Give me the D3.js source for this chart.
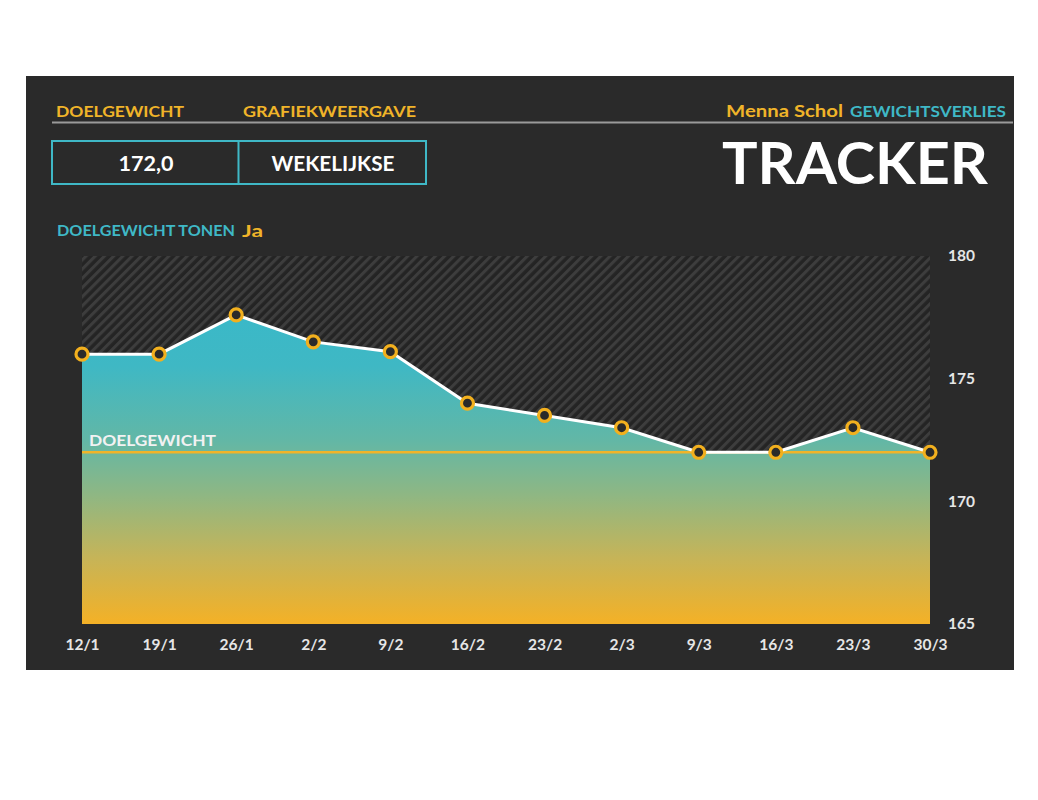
<!DOCTYPE html>
<html><head><meta charset="utf-8">
<script src="https://cdn.jsdelivr.net/npm/d3@7"></script>
<style>body{margin:0;background:#fff;} svg{display:block;}</style>
</head><body>
<script>
const weeks = ["12/1","19/1","26/1","2/2","9/2","16/2","23/2","2/3","9/3","16/3","23/3","30/3"];
const weights = [176.0,176.0,177.6,176.5,176.1,174.0,173.5,173.0,172.0,172.0,173.0,172.0];
const goalWeight = 172.0;
const yTicks = [165,170,175,180];
const yDomain = [165,180];

const W=1038,H=800;
const svg=d3.select("body").append("svg").attr("width",W).attr("height",H);
const font="'Lato','Open Sans',sans-serif";
const orange="#f0b429", teal="#3fb8c6";

function label(x0,y0,txt,size,fill,len,anchor){
  const t=svg.append("text").attr("x",x0).attr("y",y0).text(txt)
    .attr("font-family",font).attr("font-weight",700).attr("font-size",size).attr("fill",fill);
  if(len) t.attr("textLength",len).attr("lengthAdjust","spacingAndGlyphs");
  if(anchor) t.attr("text-anchor",anchor);
  return t;
}

svg.append("rect").attr("x",26).attr("y",76).attr("width",988).attr("height",594).attr("fill","#2a2a2a");

const defs=svg.append("defs");
const pat=defs.append("pattern").attr("id","hatch").attr("patternUnits","userSpaceOnUse")
  .attr("width",6.5).attr("height",6.5).attr("patternTransform","rotate(45)");
pat.append("rect").attr("width",6.5).attr("height",6.5).attr("fill","#242424");
pat.append("rect").attr("width",3).attr("height",6.5).attr("fill","#3d3d3d");

const x=d3.scalePoint().domain(weeks).range([82,930]);
const y=d3.scaleLinear().domain(yDomain).range([624,256]);

const grad=defs.append("linearGradient").attr("id","grad").attr("gradientUnits","userSpaceOnUse")
  .attr("x1",0).attr("x2",0).attr("y1",y(180)).attr("y2",y(165));
[[0,"#35b9cc"],[0.3,"#3fb8c4"],[0.5,"#62b7a6"],[0.65,"#8fb783"],[0.82,"#c6b458"],[1,"#f4b126"]]
  .forEach(([o,c])=>grad.append("stop").attr("offset",o).attr("stop-color",c));

// header
label(56,117,"DOELGEWICHT",16,orange,128);
label(243,117,"GRAFIEKWEERGAVE",16,orange,173);
label(726,117,"Menna Schol",17,orange,117);
label(850,117,"GEWICHTSVERLIES",16,teal,156);
svg.append("line").attr("x1",52).attr("x2",1013).attr("y1",122.5).attr("y2",122.5)
  .attr("stroke","#9a9a9a").attr("stroke-width",2);

svg.append("rect").attr("x",52).attr("y",141).attr("width",374).attr("height",43)
  .attr("fill","none").attr("stroke",teal).attr("stroke-width",2);
svg.append("line").attr("x1",238.5).attr("x2",238.5).attr("y1",141).attr("y2",184)
  .attr("stroke",teal).attr("stroke-width",2);
label(146,171,"172,0",21,"#fff",55,"middle");
label(333,171,"WEKELIJKSE",20,"#fff",123,"middle");

label(722,184,"TRACKER",58,"#fff",266);

label(57,236,"DOELGEWICHT TONEN",15,teal,178);
label(242,237,"Ja",17,orange,21);

// plot
svg.append("rect").attr("x",82).attr("y",256).attr("width",848).attr("height",368).attr("fill","url(#hatch)");
const data=weeks.map((w,i)=>({w,v:weights[i]}));
svg.append("path").datum(data).attr("fill","url(#grad)")
  .attr("d",d3.area().x(d=>x(d.w)).y0(y(165)).y1(d=>y(d.v)));
svg.append("line").attr("x1",82).attr("x2",930).attr("y1",y(goalWeight)).attr("y2",y(goalWeight))
  .attr("stroke",orange).attr("stroke-width",2.5);
label(89,y(goalWeight)-6,"DOELGEWICHT",16,"#f2f2f2",127);
svg.append("path").datum(data).attr("fill","none").attr("stroke","#fff").attr("stroke-width",3)
  .attr("d",d3.line().x(d=>x(d.w)).y(d=>y(d.v)));
svg.selectAll("circle.pt").data(data).join("circle").attr("class","pt")
  .attr("cx",d=>x(d.w)).attr("cy",d=>y(d.v)).attr("r",6)
  .attr("fill","#2a2a2a").attr("stroke","#f2b01e").attr("stroke-width",3.2);

// axes
const ya=svg.append("g").attr("transform","translate(930,0)")
  .call(d3.axisRight(y).tickValues(yTicks).tickSize(0).tickPadding(18));
ya.select(".domain").remove();
ya.selectAll("text").attr("font-family",font).attr("font-weight",700).attr("font-size",15.5).attr("fill","#e6e6e6");
const xa=svg.append("g").attr("transform","translate(0,624)")
  .call(d3.axisBottom(x).tickSize(0).tickPadding(15));
xa.select(".domain").remove();
xa.selectAll("text").attr("font-family",font).attr("font-weight",700).attr("font-size",15.5).attr("fill","#e6e6e6");
</script>
</body></html>
